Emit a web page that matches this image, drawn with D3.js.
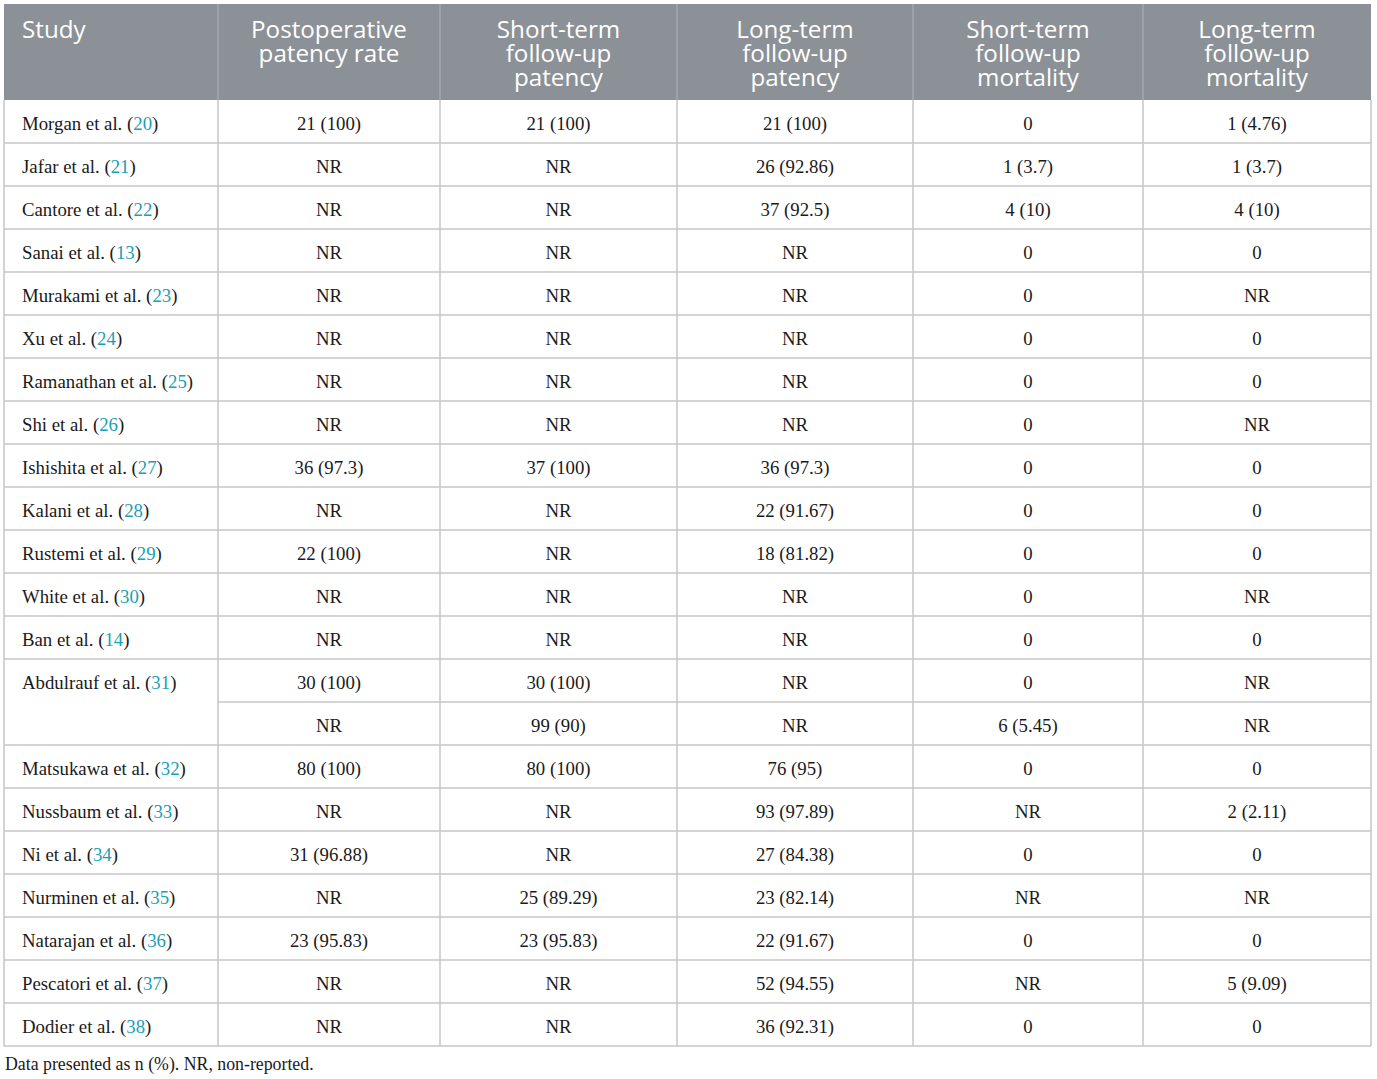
<!DOCTYPE html>
<html>
<head>
<meta charset="utf-8">
<script src="https://cdn.jsdelivr.net/npm/d3@7"></script>
<style>
  body { margin: 0; background: #fff; }
  svg { display: block; }
</style>
</head>
<body>
<svg id="table"></svg>
<script>
// 表头
const headers = [
  ["Study"],
  ["Postoperative", "patency rate"],
  ["Short-term", "follow-up", "patency"],
  ["Long-term", "follow-up", "patency"],
  ["Short-term", "follow-up", "mortality"],
  ["Long-term", "follow-up", "mortality"]
];

// 研究名称和引用编号 (null = 上一行的延续)
const studies = ["Morgan et al.", "Jafar et al.", "Cantore et al.", "Sanai et al.", "Murakami et al.",
  "Xu et al.", "Ramanathan et al.", "Shi et al.", "Ishishita et al.", "Kalani et al.", "Rustemi et al.",
  "White et al.", "Ban et al.", "Abdulrauf et al.", null, "Matsukawa et al.", "Nussbaum et al.",
  "Ni et al.", "Nurminen et al.", "Natarajan et al.", "Pescatori et al.", "Dodier et al."];
const refs = ["20", "21", "22", "13", "23", "24", "25", "26", "27", "28", "29", "30", "14", "31", null,
  "32", "33", "34", "35", "36", "37", "38"];

const postopPatency = ["21 (100)", "NR", "NR", "NR", "NR", "NR", "NR", "NR", "36 (97.3)", "NR", "22 (100)",
  "NR", "NR", "30 (100)", "NR", "80 (100)", "NR", "31 (96.88)", "NR", "23 (95.83)", "NR", "NR"];
const shortPatency = ["21 (100)", "NR", "NR", "NR", "NR", "NR", "NR", "NR", "37 (100)", "NR", "NR",
  "NR", "NR", "30 (100)", "99 (90)", "80 (100)", "NR", "NR", "25 (89.29)", "23 (95.83)", "NR", "NR"];
const longPatency = ["21 (100)", "26 (92.86)", "37 (92.5)", "NR", "NR", "NR", "NR", "NR", "36 (97.3)",
  "22 (91.67)", "18 (81.82)", "NR", "NR", "NR", "NR", "76 (95)", "93 (97.89)", "27 (84.38)", "23 (82.14)",
  "22 (91.67)", "52 (94.55)", "36 (92.31)"];
const shortMortality = ["0", "1 (3.7)", "4 (10)", "0", "0", "0", "0", "0", "0", "0", "0", "0", "0", "0",
  "6 (5.45)", "0", "NR", "0", "NR", "0", "NR", "0"];
const longMortality = ["1 (4.76)", "1 (3.7)", "4 (10)", "0", "NR", "0", "0", "NR", "0", "0", "0", "NR",
  "0", "NR", "NR", "0", "2 (2.11)", "0", "NR", "0", "5 (9.09)", "0"];

const footnote = "Data presented as n (%). NR, non-reported.";

const valueColumns = [postopPatency, shortPatency, longPatency, shortMortality, longMortality];

// 布局
const width = 1377, height = 1079;
const colEdges = [4, 218, 440, 677, 913, 1143, 1371];
const tableTop = 4, headerBottom = 100, rowH = 43;
const gridColor = "#c6c6c6";
const headerFill = "#8b9196";
const refColor = "#1aa0b4";
const serif = "'Liberation Serif', 'Times New Roman', serif";
const sans = "'Open Sans', Lato, sans-serif";

const svg = d3.select("#table").attr("width", width).attr("height", height);

const y = d3.scaleLinear().domain([0, studies.length]).range([headerBottom, headerBottom + rowH * studies.length]);
const colX = i => colEdges[i];
const colMid = i => (colEdges[i] + colEdges[i + 1]) / 2;
const tableBottom = y(studies.length);
const rowBase = r => (y(r) + y(r + 1)) / 2 + 8.5;

// 表头背景
svg.append("rect")
  .attr("x", colEdges[0]).attr("y", tableTop)
  .attr("width", colEdges[6] - colEdges[0]).attr("height", headerBottom - tableTop)
  .attr("fill", headerFill);

// 表头竖线
svg.append("g").selectAll("line")
  .data(d3.range(1, colEdges.length - 1))
  .join("line")
  .attr("x1", colX).attr("x2", colX)
  .attr("y1", tableTop).attr("y2", headerBottom)
  .attr("stroke", "#a3a8ac").attr("stroke-width", 1.5);

// 表头文字
const hg = svg.append("g")
  .attr("font-family", sans).attr("font-size", 24.2).attr("fill", "#fff");
headers.forEach((lines, i) => {
  const t = hg.append("text")
    .attr("text-anchor", i === 0 ? "start" : "middle")
    .attr("x", i === 0 ? 22 : colMid(i));
  t.selectAll("tspan").data(lines).join("tspan")
    .attr("x", i === 0 ? 22 : colMid(i))
    .attr("y", (d, k) => 37.5 + k * 24.3)
    .text(d => d);
});

// 横线：只在有研究名称的地方画第一列
const grid = svg.append("g").attr("stroke", gridColor).attr("stroke-width", 1.5);
d3.range(1, studies.length).forEach(r => {
  const x1 = studies[r] === null ? colEdges[1] : colEdges[0];
  grid.append("line")
    .attr("x1", x1).attr("x2", colEdges[6])
    .attr("y1", y(r)).attr("y2", y(r));
});
grid.append("line")
  .attr("x1", colEdges[0]).attr("x2", colEdges[6])
  .attr("y1", tableBottom).attr("y2", tableBottom);
// 竖线
grid.selectAll("line.v")
  .data(colEdges)
  .join("line")
  .attr("class", "v")
  .attr("x1", d => d).attr("x2", d => d)
  .attr("y1", headerBottom).attr("y2", tableBottom);

// 研究名称
const body = svg.append("g").attr("font-family", serif).attr("font-size", 18.8).attr("fill", "#1a1a1a");
studies.forEach((s, r) => {
  if (s === null) return;
  const t = body.append("text")
    .attr("x", 22).attr("y", rowBase(r));
  t.append("tspan").text(s + " (");
  t.append("tspan").attr("fill", refColor).text(refs[r]);
  t.append("tspan").text(")");
});

// 数值
valueColumns.forEach((col, c) => {
  body.append("g").selectAll("text")
    .data(col)
    .join("text")
    .attr("text-anchor", "middle")
    .attr("x", colMid(c + 1))
    .attr("y", (d, r) => rowBase(r))
    .text(d => d);
});

// 脚注
svg.append("text")
  .attr("x", 5).attr("y", 1070)
  .attr("font-family", serif).attr("font-size", 17.8).attr("fill", "#1a1a1a")
  .text(footnote);
</script>
</body>
</html>
